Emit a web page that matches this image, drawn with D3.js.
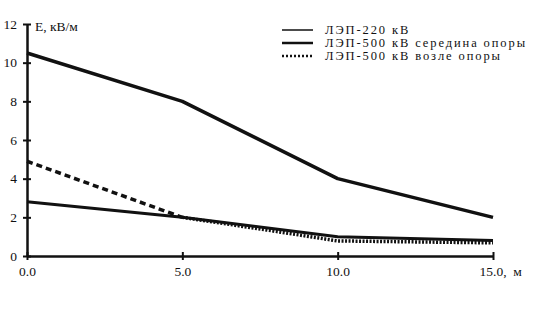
<!DOCTYPE html>
<html>
<head>
<meta charset="utf-8">
<script src="https://cdn.jsdelivr.net/npm/d3@7"></script>
<style>
  body { margin: 0; background: #fff; }
  svg text { font-family: "Liberation Serif", "DejaVu Serif", serif; fill: #111; }
</style>
</head>
<body>
<svg width="540" height="335"></svg>
<script>
var svg = d3.select("svg");

// distances, m
var dist = [0, 5, 10, 15];
var line220 = [2.8, 2.0, 1.0, 0.8];
var line500mid = [10.5, 8.0, 4.0, 2.0];
var line500supX = [0, 5, 7.7, 10, 15];
var line500sup = [4.9, 2.0, 1.35, 0.78, 0.68];

var xTicks = [0, 5, 10, 15];
var yTicks = [0, 2, 4, 6, 8, 10, 12];
var legendNames = ["ЛЭП-220 кВ", "ЛЭП-500 кВ середина опоры", "ЛЭП-500 кВ возле опоры"];

var margin = {left: 27, top: 24, right: 47, bottom: 79};
var width = 540, height = 335;

var x = d3.scaleLinear().domain([0, 15]).range([margin.left, width - margin.right]);
var y = d3.scaleLinear().domain([0, 12]).range([height - margin.bottom, margin.top]);

function toPts(xs, ys) {
  return xs.map(function(d, i) { return {x: d, y: ys[i]}; });
}

var line = d3.line()
  .x(function(d) { return x(d.x); })
  .y(function(d) { return y(d.y); });

// axes
var axisLeft = d3.axisLeft(y).tickValues(yTicks).tickSizeInner(4).tickSizeOuter(0).tickFormat(d3.format("d"));
var axisBottom = d3.axisBottom(x).tickValues(xTicks).tickSizeInner(4).tickSizeOuter(0)
  .tickFormat(function(d) { return d === 15 ? "15.0,  м" : d3.format(".1f")(d); });

var gy = svg.append("g")
  .attr("transform", "translate(" + margin.left + ",0)")
  .call(axisLeft);
var gx = svg.append("g")
  .attr("transform", "translate(0," + (height - margin.bottom) + ")")
  .call(axisBottom);

[gx, gy].forEach(function(g) {
  g.select(".domain").attr("stroke", "#111").attr("stroke-width", 2.5);
  g.selectAll(".tick line").attr("stroke", "#111").attr("stroke-width", 2);
  g.selectAll("text").style("font-size", "13.5px").attr("fill", "#111");
});
gy.selectAll(".tick line").attr("x1", 4).attr("x2", -4);
gy.selectAll(".tick text").attr("x", -10);
gx.selectAll(".tick line").attr("y1", -4).attr("y2", 4);
gx.selectAll(".tick text").attr("y", 10);
gx.selectAll(".tick").filter(function(d) { return d === 15; }).select("text")
  .attr("text-anchor", "start").attr("dx", "-14").style("white-space", "pre")
  .attr("xml:space", "preserve");

svg.append("text")
  .attr("x", margin.left + 8)
  .attr("y", margin.top + 7)
  .style("font-size", "13.5px")
  .text("E, кВ/м");

// series
svg.append("path")
  .attr("d", line(toPts(dist, line500mid)))
  .attr("fill", "none").attr("stroke", "#111").attr("stroke-width", 3.5)
  .attr("stroke-linejoin", "round");

svg.append("path")
  .attr("d", line(toPts(dist, line220)))
  .attr("fill", "none").attr("stroke", "#111").attr("stroke-width", 3)
  .attr("stroke-linejoin", "round");

var supPts = toPts(line500supX, line500sup);
svg.append("path")
  .attr("d", line(supPts.slice(0, 2)))
  .attr("fill", "none").attr("stroke", "#111").attr("stroke-width", 3.5)
  .attr("stroke-dasharray", "6,4");
svg.append("path")
  .attr("d", line(supPts.slice(1)))
  .attr("fill", "none").attr("stroke", "#111").attr("stroke-width", 3.5)
  .attr("stroke-dasharray", "2,1.5");

// legend
var legend = svg.append("g").attr("transform", "translate(282,30)");
var legendWidth = [1.5, 2.5, 2.5];
var legendDash = [null, null, "2,2"];
legendNames.forEach(function(name, i) {
  var row = legend.append("g").attr("transform", "translate(0," + (i * 13) + ")");
  row.append("line")
    .attr("x1", 0).attr("x2", 31).attr("y1", 0).attr("y2", 0)
    .attr("stroke", "#111").attr("stroke-width", legendWidth[i])
    .attr("stroke-dasharray", legendDash[i]);
  row.append("text")
    .attr("x", 43).attr("y", 4)
    .style("font-size", "12.5px")
    .style("letter-spacing", "1.9px")
    .text(name);
});
</script>
</body>
</html>
